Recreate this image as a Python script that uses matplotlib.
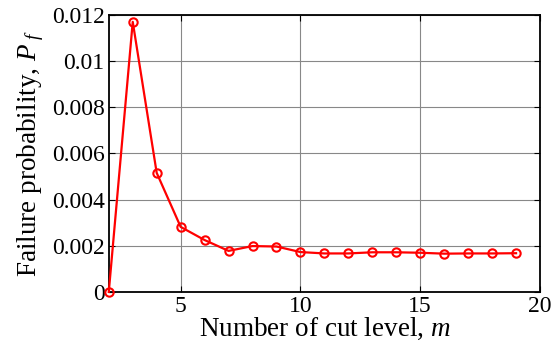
import numpy as np
import matplotlib.pyplot as plt

plt.rcParams['font.family'] = 'Liberation Serif'
plt.rcParams['mathtext.fontset'] = 'custom'
plt.rcParams['mathtext.rm'] = 'Liberation Serif'
plt.rcParams['mathtext.it'] = 'Liberation Serif:italic'

# Number of cut levels and estimated failure probabilities
m = [2, 3, 4, 5, 6, 7, 8, 9, 10, 11, 12, 13, 14, 15, 16, 17, 18, 19]
pf = [0.0, 0.0117, 0.00516, 0.00282, 0.00225, 0.00178, 0.00199, 0.00197,
      0.00173, 0.00167, 0.00167, 0.00172, 0.00172, 0.00170, 0.00166,
      0.00167, 0.00167, 0.00168]

x_ticks = [5, 10, 15, 20]
y_ticks = [0, 0.002, 0.004, 0.006, 0.008, 0.01, 0.012]
y_tick_labels = ['0', '0.002', '0.004', '0.006', '0.008', '0.01', '0.012']

fig = plt.figure(figsize=(5.55, 3.47), dpi=100)
ax = fig.add_axes([0.196, 0.1585, 0.777, 0.7985])

ax.plot(m, pf, color='red', linewidth=1.6, marker='o', markersize=6,
        markerfacecolor='none', markeredgewidth=1.5, clip_on=False, zorder=3)

ax.set_xlim(2, 20)
ax.set_ylim(0, 0.012)
ax.set_xticks(x_ticks)
ax.set_yticks(y_ticks)
ax.set_yticklabels(y_tick_labels)
ax.grid(True, color='#888888', linewidth=0.8)
ax.tick_params(direction='in', top=True, right=True, length=4, width=0.8,
               labelsize=17, pad=3)
for s in ax.spines.values():
    s.set_linewidth(1.3)

ax.set_xlabel(r'Number of cut level, $m$', fontsize=19.5, labelpad=-1)
ax.set_ylabel(r'Failure probability, $P_{\ f}$', fontsize=19.5, labelpad=4)

fig.savefig('out.png', dpi=100)
